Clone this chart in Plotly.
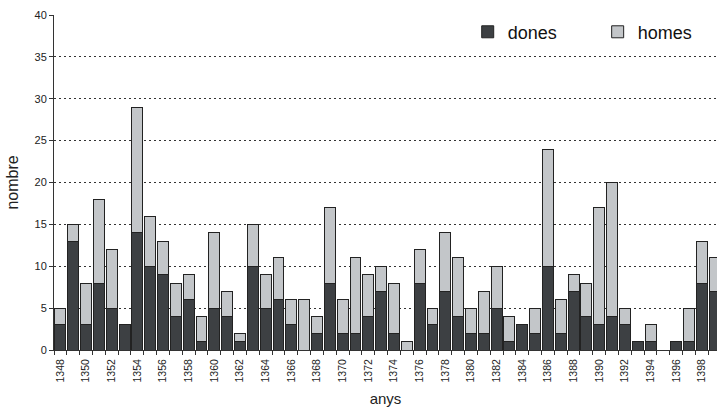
import plotly.graph_objects as go

years = list(range(1348, 1400))
dones = [3, 13, 3, 8, 5, 3, 14, 10, 9, 4, 6, 1, 5, 4, 1, 10, 5, 6, 3, 0,
         2, 8, 2, 2, 4, 7, 2, 0, 8, 3, 7, 4, 2, 2, 5, 1, 3, 2, 10, 2,
         7, 4, 3, 4, 3, 1, 1, 0, 1, 1, 8, 7]
homes = [2, 2, 5, 10, 7, 0, 15, 6, 4, 4, 3, 3, 9, 3, 1, 5, 4, 5, 3, 6,
         2, 9, 4, 9, 5, 3, 6, 1, 4, 2, 7, 7, 3, 5, 5, 3, 0, 3, 14, 4,
         2, 4, 14, 16, 2, 0, 2, 0, 0, 4, 5, 4]
tick_years = list(range(1348, 1399, 2))

font = "Liberation Sans, Arial, sans-serif"
outline = dict(color="#222222", width=1)

fig = go.Figure()
fig.add_trace(go.Bar(x=years, y=dones, name="dones", legend="legend", showlegend=True,
                     marker=dict(color="#3d4043", line=outline)))
fig.add_trace(go.Bar(x=years, y=homes, name="homes", legend="legend2", showlegend=True,
                     marker=dict(color="#c3c6c9", line=outline)))

leg_common = dict(yanchor="middle", y=0.949, xanchor="left",
                  font=dict(size=18, color="#111111"), bgcolor="rgba(0,0,0,0)")

fig.update_layout(
    showlegend=True,
    barmode="stack",
    bargap=0.15,
    width=717, height=408,
    margin=dict(l=54, r=0, t=15, b=58, autoexpand=False),
    paper_bgcolor="white", plot_bgcolor="white",
    font=dict(family=font, color="#222222", size=11),
    legend=dict(x=0.624, **leg_common),
    legend2=dict(x=0.820, **leg_common),
    xaxis=dict(
        range=[1347.5, 1399.18], automargin=False,
        tickmode="array", tickvals=tick_years, ticktext=[str(y) for y in tick_years],
        tickangle=-90, ticks="", showgrid=False, zeroline=False,
        showline=True, linecolor="#333333", linewidth=1,
        ticklabelstandoff=4,
        tickfont=dict(size=10.5, color="#222222"),
        minor=dict(tickmode="array", tickvals=[y - 0.5 for y in years] + [1399.5],
                   ticks="outside", ticklen=4, tickcolor="#333333", showgrid=False),
        title=dict(text="anys", font=dict(size=15, color="#222222"), standoff=11),
    ),
    yaxis=dict(
        range=[0, 40], tickmode="linear", tick0=0, dtick=5, automargin=False,
        showgrid=True, gridcolor="#333333", griddash="2px,3px", gridwidth=1,
        zeroline=False, showline=True, linecolor="#333333", linewidth=1,
        ticks="outside", ticklen=4, tickcolor="#333333",
        tickfont=dict(size=11, color="#222222"),
        title=dict(text="nombre", font=dict(size=16, color="#222222"), standoff=11),
    ),
)

fig.write_html("out.html", config={"displayModeBar": False},
               post_script="document.body.style.margin='0';document.body.style.padding='0';")
